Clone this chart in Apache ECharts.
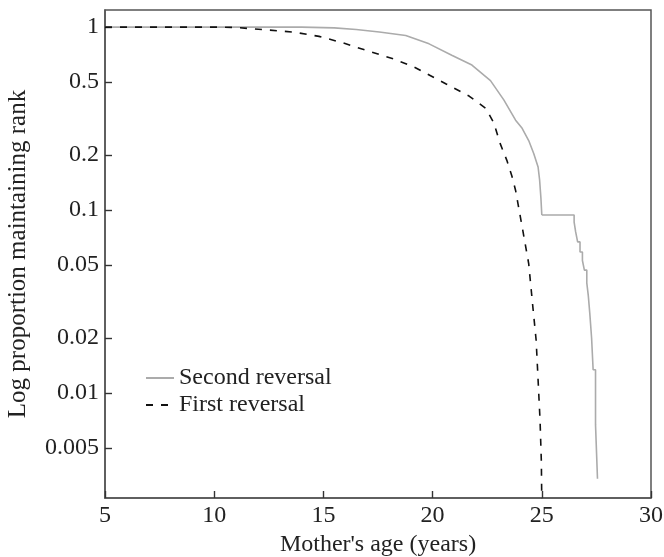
<!DOCTYPE html>
<html>
<head>
<meta charset="utf-8">
<script src="https://cdn.jsdelivr.net/npm/echarts@6/dist/echarts.min.js"></script>
<style>
  html, body { margin: 0; padding: 0; background: #fff; }
  #chart { width: 664px; height: 557px; }
</style>
</head>
<body>
<div id="chart"></div>
<script>
// y axis is a log scale: values are plotted as log10 on a value axis
var yTickValues = [0.005, 0.01, 0.02, 0.05, 0.1, 0.2, 0.5, 1];
var yTickLabels = ['0.005', '0.01', '0.02', '0.05', '0.1', '0.2', '0.5', '1'];
var yMin = 0.00267, yMax = 1.24;
var xMin = 5, xMax = 30;

// First reversal (dashed)
var firstAges   = [5, 8, 10, 11, 12.2, 13.6, 14.8, 15.9, 16.9, 18.2, 19.1, 20.6, 21.67, 22.43, 22.8, 23.1, 23.4, 23.64, 23.8, 24.1, 24.4, 24.59, 24.74, 24.83, 24.92, 24.98, 25.0];
var firstValues = [1, 1, 1, 0.995, 0.97, 0.94, 0.89, 0.82, 0.75, 0.67, 0.61, 0.49, 0.42, 0.36, 0.30, 0.23, 0.187, 0.152, 0.128, 0.081, 0.051, 0.0296, 0.0195, 0.0118, 0.0071, 0.0042, 0.0025];

// Second reversal, smooth part (grey)
var secondAges   = [5, 10, 14, 15.5, 16.5, 17.56, 18.77, 19.84, 20.9, 21.8, 22.65, 23.26, 23.8, 24.1, 24.4, 24.63, 24.83, 24.9, 24.96, 25.0];
var secondValues = [1, 1, 1, 0.99, 0.97, 0.94, 0.90, 0.81, 0.70, 0.62, 0.51, 0.40, 0.31, 0.28, 0.24, 0.204, 0.172, 0.146, 0.116, 0.094];

// Second reversal, stepped tail (value after each drop)
var stepAges   = [25.0, 26.48, 26.55, 26.64, 26.75, 26.86, 26.95, 27.06, 27.13, 27.2, 27.28, 27.35, 27.46, 27.55];
var stepValues = [0.094, 0.086, 0.076, 0.067, 0.059, 0.053, 0.047, 0.040, 0.034, 0.027, 0.020, 0.0134, 0.0067, 0.0034];

function toLog(ages, vals) {
  var out = [];
  for (var i = 0; i < ages.length; i++) {
    out.push([ages[i], Math.log10(vals[i])]);
  }
  return out;
}

var font = '"Liberation Serif", "DejaVu Serif", serif';
var greyLine = '#ababab';
var yTicksLog = yTickValues.map(Math.log10);

var chart = echarts.init(document.getElementById('chart'));
var option = {
  backgroundColor: '#fff',
  animation: false,
  grid: {
    left: 105, right: 13, top: 10, bottom: 59,
    outerBoundsMode: 'none',
    containLabel: false,
    show: true, borderColor: '#555', borderWidth: 1.5, backgroundColor: 'transparent'
  },
  legend: {
    orient: 'vertical',
    left: 140, top: 361,
    itemWidth: 28, itemHeight: 12, itemGap: 3,
    data: ['Second reversal', 'First reversal'],
    itemStyle: { opacity: 0 },
    textStyle: { fontFamily: font, fontSize: 24, color: '#222' }
  },
  xAxis: {
    type: 'value',
    min: xMin, max: xMax, interval: 5,
    name: "Mother's age (years)",
    nameLocation: 'middle',
    nameGap: 33,
    nameTextStyle: { fontFamily: font, fontSize: 24, color: '#222' },
    axisLine: { onZero: false, lineStyle: { color: '#555', width: 1.5 } },
    axisTick: { inside: true, length: 7, lineStyle: { color: '#333', width: 1.4 } },
    axisLabel: { fontFamily: font, fontSize: 24, color: '#222', margin: 6 },
    splitLine: { show: false }
  },
  yAxis: {
    type: 'value',
    min: Math.log10(yMin), max: Math.log10(yMax),
    name: 'Log proportion maintaining rank',
    nameLocation: 'middle',
    nameGap: 74,
    nameTextStyle: { fontFamily: font, fontSize: 25, color: '#222' },
    axisLine: { show: true, onZero: false, lineStyle: { color: '#555', width: 1.5 } },
    axisTick: {
      show: true, inside: true, length: 7,
      customValues: yTicksLog,
      lineStyle: { color: '#333', width: 1.4 }
    },
    axisLabel: {
      fontFamily: font, fontSize: 24, color: '#222', margin: 6,
      customValues: yTicksLog,
      formatter: function (v) {
        var best = 0;
        for (var i = 0; i < yTicksLog.length; i++) {
          if (Math.abs(yTicksLog[i] - v) < Math.abs(yTicksLog[best] - v)) best = i;
        }
        return yTickLabels[best];
      }
    },
    splitLine: { show: false }
  },
  series: [
    {
      name: 'Second reversal',
      type: 'line',
      symbol: 'none',
      symbolSize: 0,
      clip: true,
      data: toLog(secondAges, secondValues),
      lineStyle: { color: greyLine, width: 1.6 },
      itemStyle: { color: greyLine }
    },
    {
      name: 'Second reversal',
      type: 'line',
      symbol: 'none',
      symbolSize: 0,
      step: 'end',
      clip: true,
      data: toLog(stepAges, stepValues),
      lineStyle: { color: greyLine, width: 1.6 },
      itemStyle: { color: greyLine }
    },
    {
      name: 'First reversal',
      type: 'line',
      symbol: 'none',
      symbolSize: 0,
      clip: true,
      data: toLog(firstAges, firstValues),
      lineStyle: { color: '#111', width: 1.6, type: [7, 8] },
      itemStyle: { color: '#111' }
    }
  ]
};
chart.setOption(option);
</script>
</body>
</html>
